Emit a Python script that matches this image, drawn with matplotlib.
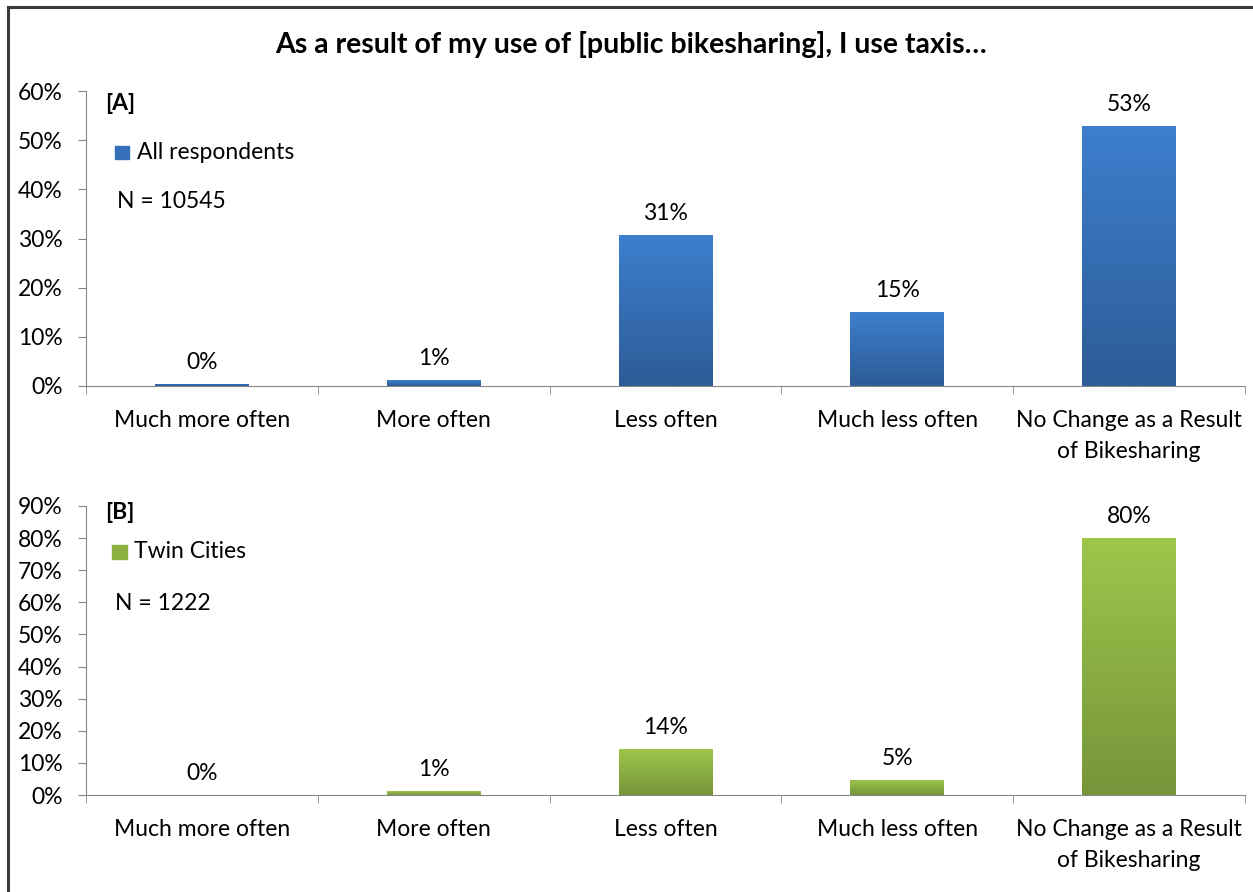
import numpy as np
import matplotlib
matplotlib.use("Agg")
import matplotlib.pyplot as plt
from matplotlib.lines import Line2D
from matplotlib.patches import Rectangle
from matplotlib.ticker import FixedLocator, PercentFormatter

plt.rcParams['font.family'] = ['Lato', 'DejaVu Sans']

# data
categories = ["Much more often", "More often", "Less often", "Much less often",
              "No Change as a Result\nof Bikesharing"]
all_resp = [0.5, 1.2, 30.7, 15.0, 52.9]
twin_cities = [0.0, 1.1, 14.3, 4.7, 80.0]
all_labels = ["0%", "1%", "31%", "15%", "53%"]
twin_labels = ["0%", "1%", "14%", "5%", "80%"]

FS = 16.5
W, H = 1253, 892
fig = plt.figure(figsize=(W / 100, H / 100), dpi=100)

title = "As a result of my use of [public bikesharing], I use taxis\u2026"
fig.text(0.504, 1 - 45 / H, title, ha='center', va='center',
         fontsize=20.5, fontweight='bold')

# border (top + left visible)
fig.add_artist(Line2D([8 / W, 1], [1 - 7 / H, 1 - 7 / H], color='#3a3a3a', lw=2.2,
                      transform=fig.transFigure))
fig.add_artist(Line2D([8 / W, 8 / W], [1 - 7 / H, 0], color='#3a3a3a', lw=2.2,
                      transform=fig.transFigure))


def gradient_bars(ax, vals, top_col, bot_col):
    x = np.arange(len(vals))
    bars = ax.bar(x, vals, width=0.405, color='none', edgecolor='none', zorder=2)
    c1 = np.array(matplotlib.colors.to_rgb(top_col))
    c2 = np.array(matplotlib.colors.to_rgb(bot_col))
    t = np.linspace(0, 1, 64)[:, None]
    grad = (c1 * (1 - t) + c2 * t)[:, None, :]
    for b in bars:
        if b.get_height() <= 0:
            continue
        x0, y0 = b.get_x(), b.get_y()
        im = ax.imshow(grad, extent=[x0, x0 + b.get_width(), y0, y0 + b.get_height()],
                       aspect='auto', zorder=2, interpolation='bilinear')
        im.set_clip_path(b)
    return bars


def setup(ax, ymax, step):
    n = len(categories)
    ax.set_xlim(-0.5, n - 0.5)
    ax.set_ylim(0, ymax)
    ax.set_yticks(np.arange(0, ymax + 0.1, step))
    ax.yaxis.set_major_formatter(PercentFormatter(decimals=0))
    ax.set_xticks(np.arange(n))
    ax.set_xticklabels(categories, linespacing=1.6)
    ax.xaxis.set_minor_locator(FixedLocator(np.arange(-0.5, n, 1.0)))
    for s in ['top', 'right']:
        ax.spines[s].set_visible(False)
    for s in ['left', 'bottom']:
        ax.spines[s].set_color('#868686')
    ax.tick_params(axis='x', which='major', length=0, pad=17, labelsize=FS)
    ax.tick_params(axis='x', which='minor', length=6, color='#868686', direction='out')
    ax.tick_params(axis='y', length=6, color='#868686', pad=11, labelsize=FS)


def value_labels(ax, vals, labels):
    for i, (v, lab) in enumerate(zip(vals, labels)):
        ax.annotate(lab, (i, v), xytext=(0, 15.5), textcoords='offset points',
                    ha='center', va='center', fontsize=FS)


# panel A
axA = fig.add_axes([86 / W, 1 - 386 / H, (1245 - 86) / W, (386 - 91) / H])
gradient_bars(axA, all_resp, '#3d7fce', '#2d5c97')
setup(axA, 60, 10)
value_labels(axA, all_resp, all_labels)
axA.text(0.0164, 0.959, "[A]", transform=axA.transAxes, fontsize=FS,
         fontweight='bold', va='center')
axA.add_patch(Rectangle((0.025, 0.768), 0.0125, 0.047, transform=axA.transAxes,
                        color='#3670b8', clip_on=False))
axA.text(0.044, 0.790, "All respondents", transform=axA.transAxes, fontsize=FS,
         va='center')
axA.text(0.027, 0.627, "N = 10545", transform=axA.transAxes, fontsize=FS,
         va='center')

# panel B
axB = fig.add_axes([86 / W, 1 - 795 / H, (1245 - 86) / W, (795 - 506) / H])
gradient_bars(axB, twin_cities, '#9dc64b', '#76953a')
setup(axB, 90, 10)
value_labels(axB, twin_cities, twin_labels)
axB.text(0.0164, 0.979, "[B]", transform=axB.transAxes, fontsize=FS,
         fontweight='bold', va='center')
axB.add_patch(Rectangle((0.0225, 0.818), 0.013, 0.046, transform=axB.transAxes,
                        color='#8ab042', clip_on=False))
axB.text(0.041, 0.841, "Twin Cities", transform=axB.transAxes, fontsize=FS,
         va='center')
axB.text(0.025, 0.664, "N = 1222", transform=axB.transAxes, fontsize=FS,
         va='center')

fig.savefig("out.png", dpi=100)
